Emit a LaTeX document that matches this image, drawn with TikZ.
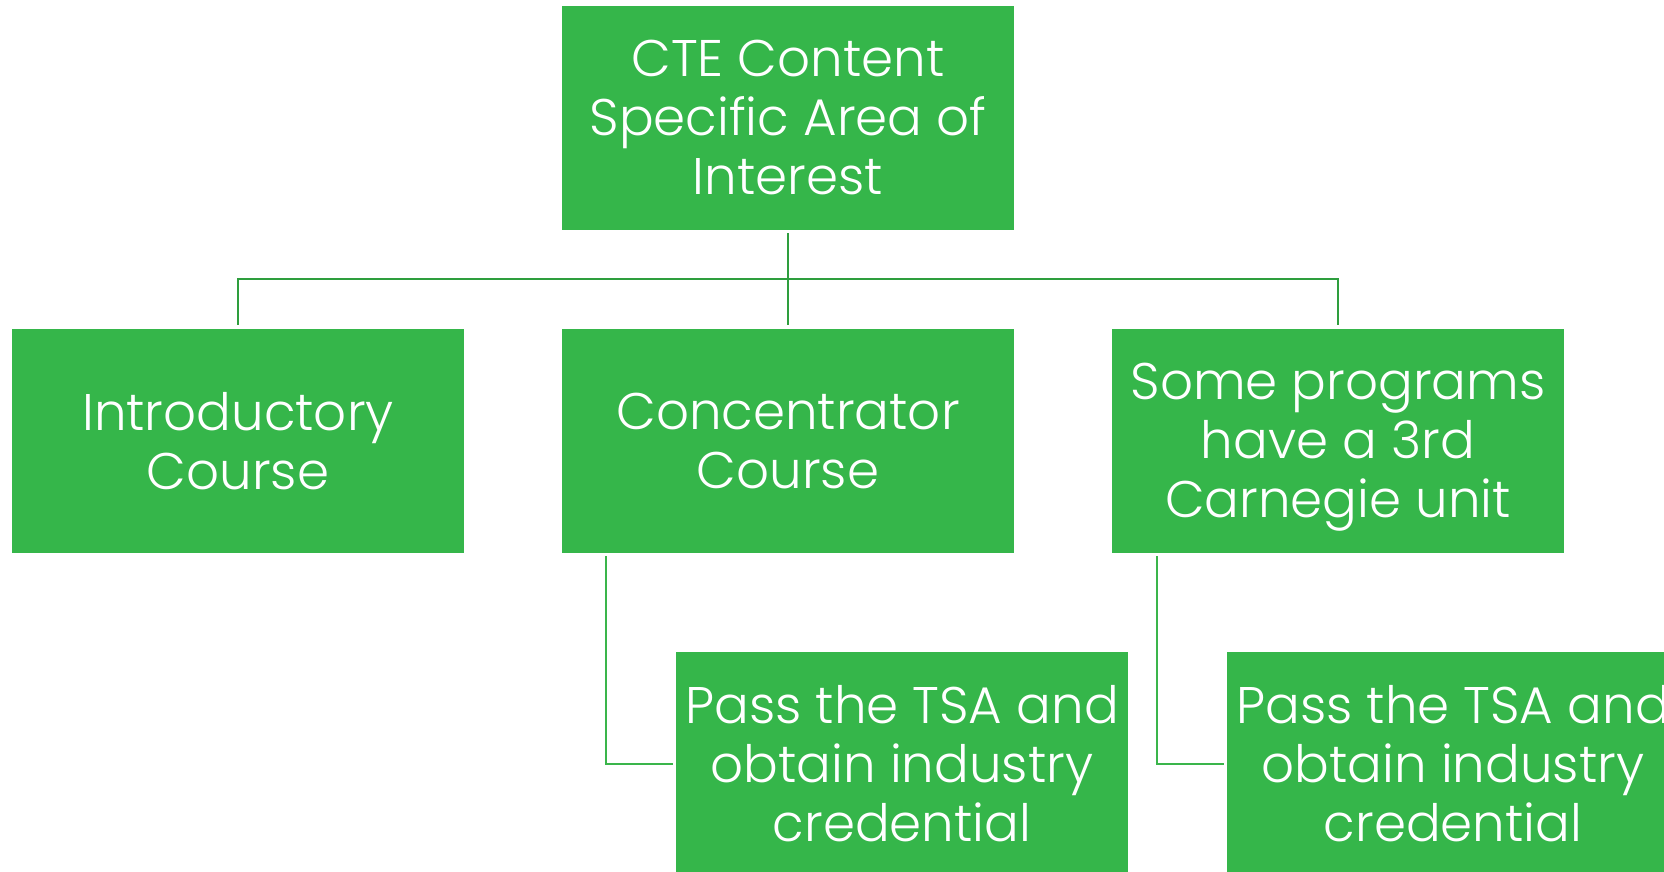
\documentclass[tikz,border=0pt]{standalone}
\usepackage{fontspec}
\setmainfont{Poppins}[UprightFont=* Light]
\definecolor{boxgreen}{HTML}{35B64A}
\definecolor{linedark}{HTML}{2E9E3E}
\definecolor{linelight}{HTML}{3AB54B}
\begin{document}
\begin{tikzpicture}[x=1pt,y=-1pt,
  box/.style={fill=boxgreen,draw=none,minimum width=452pt,minimum height=224pt,inner sep=0pt,
    text=white,align=center,font=\fontsize{51.5}{59}\selectfont},
  conntop/.style={draw=linedark,line width=2pt},
  connbot/.style={draw=linelight,line width=2pt}]
\useasboundingbox (0,0) rectangle (1664,872);
\node[box] (top) at (788,118) {CTE Content\\Specific Area of\\Interest};
\node[box] (intro) at (238,441) {Introductory\\Course};
\node[box] (mid) at (788,441) {Concentrator\\Course};
\node[box] (right) at (1338,441) {Some programs\\have a 3rd\\Carne\smash{g}ie unit};
\node[box] (pass1) at (902,764) {Pass the TSA and\\obtain industry\\credential};
\node[box] (pass2) at (1453,764) {Pass the TSA and\\obtain industry\\credential};
\coordinate (hb) at (788,279);
\draw[conntop] ([yshift=-3pt]top.south) -- ([yshift=4pt]mid.north);
\draw[conntop] ([yshift=4pt]intro.north) |- (hb) -| ([yshift=4pt]right.north);
\draw[connbot] ([xshift=44pt,yshift=-3pt]mid.south west) |- ([xshift=-3pt]pass1.west);
\draw[connbot] ([xshift=45pt,yshift=-3pt]right.south west) |- ([xshift=-3pt]pass2.west);
\end{tikzpicture}
\end{document}
